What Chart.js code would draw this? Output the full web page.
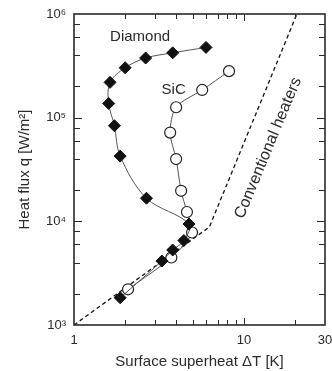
<!DOCTYPE html>
<html lang="en">
<head>
    <meta charset="UTF-8">
    <title>Heat flux vs surface superheat</title>
    <script src="https://cdn.jsdelivr.net/npm/chart.js"></script>
    <style>
        html, body { margin: 0; padding: 0; background: #fff; }
    </style>
</head>
<body>
<canvas id="myChart" width="332" height="371"></canvas>
<script>
    // values
    const diamondT = [1.87, 3.29, 3.81, 4.43, 4.75, 2.67, 1.87, 1.73, 1.60, 1.63, 2.00, 2.64, 3.81, 5.98];
    const diamondQ = [1830, 4140, 5290, 6530, 9420, 16700, 42600, 83600, 137000, 219000, 303000, 376000, 422000, 476000];

    const sicT = [2.08, 3.74, 4.95, 4.62, 4.27, 3.99, 3.68, 3.99, 5.68, 8.17];
    const sicQ = [2210, 4480, 7800, 12300, 19700, 39900, 71800, 126000, 185000, 281000];

    const heaterT = [1, 6.26, 20.5];
    const heaterQ = [1000, 8800, 1000000];

    const xTicks = [1, 2, 3, 4, 5, 6, 7, 8, 9, 10, 20, 30];
    const xLabels = {1: '1', 10: '10', 30: '30'};
    const yTicks = [1e3, 2e3, 4e3, 6e3, 8e3, 1e4, 2e4, 4e4, 6e4, 8e4, 1e5, 2e5, 4e5, 6e5, 8e5, 1e6];
    const yLabels = {1000: '10³', 10000: '10⁴', 100000: '10⁵', 1000000: '10⁶'};

    // text labels inside the plot, in data coordinates
    const notes = [
        {text: 'Diamond', t: 2.45, q: 600000, angle: 0, size: 15},
        {text: 'SiC', t: 3.86, q: 185000, angle: 0, size: 15},
        {text: 'Conventional heaters', t: 13.9, q: 51000, angle: -67.5, size: 16}
    ];

    const ink = '#2a2a2a';
    const family = '"Liberation Sans", Arial, Helvetica, sans-serif';

    const toPoints = (xs, ys) => xs.map((x, i) => ({x: x, y: ys[i]}));

    // frame, inward tick marks and the text notes
    const frameAndNotes = {
        id: 'frameAndNotes',
        afterDraw(chart) {
            const ctx = chart.ctx;
            const a = chart.chartArea;
            const xs = chart.scales.x, ys = chart.scales.y;
            ctx.save();
            ctx.strokeStyle = ink;
            ctx.lineWidth = 1;
            xTicks.forEach(v => {
                if (v === 1 || v === 30) return;
                const px = Math.round(xs.getPixelForValue(v)) + 0.5;
                const len = xLabels[v] ? 7 : 5;
                ctx.beginPath();
                ctx.moveTo(px, a.bottom); ctx.lineTo(px, a.bottom - len);
                ctx.moveTo(px, a.top); ctx.lineTo(px, a.top + len);
                ctx.stroke();
            });
            yTicks.forEach(v => {
                if (v === 1e3 || v === 1e6) return;
                const py = Math.round(ys.getPixelForValue(v)) + 0.5;
                const len = yLabels[v] ? 8 : 6;
                ctx.beginPath();
                ctx.moveTo(a.left, py); ctx.lineTo(a.left + len, py);
                ctx.moveTo(a.right, py); ctx.lineTo(a.right - len, py);
                ctx.stroke();
            });
            ctx.lineWidth = 1.6;
            ctx.strokeRect(a.left, a.top, a.right - a.left, a.bottom - a.top);

            ctx.fillStyle = ink;
            ctx.textAlign = 'center';
            ctx.textBaseline = 'middle';
            notes.forEach(n => {
                ctx.save();
                ctx.translate(xs.getPixelForValue(n.t), ys.getPixelForValue(n.q));
                ctx.rotate(n.angle * Math.PI / 180);
                ctx.font = n.size + 'px ' + family;
                ctx.fillText(n.text, 0, 0);
                ctx.restore();
            });
            ctx.restore();
        }
    };

    const data = {
        datasets: [
            {
                label: 'Diamond',
                data: toPoints(diamondT, diamondQ),
                showLine: true,
                tension: 0.35,
                borderColor: '#555',
                borderWidth: 1,
                pointStyle: 'rectRot',
                pointRadius: 6,
                pointBackgroundColor: '#111',
                pointBorderColor: '#111',
                pointBorderWidth: 1,
                order: 0
            },
            {
                label: 'SiC',
                data: toPoints(sicT, sicQ),
                showLine: true,
                tension: 0.3,
                borderColor: '#555',
                borderWidth: 1,
                pointStyle: 'circle',
                pointRadius: 5.5,
                pointBackgroundColor: '#fff',
                pointBorderColor: '#222',
                pointBorderWidth: 1.2,
                order: 1
            },
            {
                label: 'Conventional heaters',
                data: toPoints(heaterT, heaterQ),
                showLine: true,
                tension: 0,
                borderColor: '#111',
                borderWidth: 1.3,
                borderDash: [4, 3],
                pointRadius: 0,
                order: 2
            }
        ]
    };

    const config = {
        type: 'scatter',
        data: data,
        options: {
            responsive: false,
            animation: false,
            layout: {padding: {top: 14, right: 0, left: 0, bottom: 0}},
            plugins: {
                legend: {display: false},
                tooltip: {enabled: false}
            },
            scales: {
                x: {
                    type: 'logarithmic',
                    min: 1,
                    max: 30,
                    afterBuildTicks: scale => { scale.ticks = xTicks.map(v => ({value: v})); },
                    afterFit: scale => {
                        scale.height = 46;
                        scale.paddingLeft = 0;
                        scale.paddingRight = 7;
                    },
                    grid: {display: false, drawTicks: false},
                    border: {display: false},
                    ticks: {
                        autoSkip: false,
                        maxRotation: 0,
                        padding: 8,
                        color: ink,
                        font: {family: family, size: 13},
                        callback: v => xLabels[v] || ''
                    },
                    title: {
                        display: true,
                        text: 'Surface superheat ΔT [K]',
                        color: ink,
                        font: {family: family, size: 15},
                        padding: {top: 0, bottom: 0}
                    }
                },
                y: {
                    type: 'logarithmic',
                    min: 1000,
                    max: 1000000,
                    afterBuildTicks: scale => { scale.ticks = yTicks.map(v => ({value: v})); },
                    afterFit: scale => {
                        scale.width = 74;
                        scale.paddingTop = 0;
                        scale.paddingBottom = 0;
                    },
                    grid: {display: false, drawTicks: false},
                    border: {display: false},
                    ticks: {
                        autoSkip: false,
                        padding: 8,
                        color: ink,
                        font: {family: family, size: 13},
                        callback: v => yLabels[v] || ''
                    },
                    title: {
                        display: true,
                        text: 'Heat flux q [W/m²]',
                        color: ink,
                        font: {family: family, size: 15},
                        padding: {top: 16, bottom: 0}
                    }
                }
            }
        },
        plugins: [frameAndNotes]
    };

    const myChart = new Chart(document.getElementById('myChart'), config);
</script>
</body>
</html>
